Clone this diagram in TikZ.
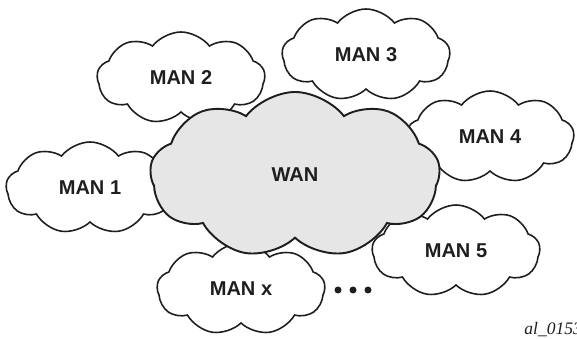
\documentclass[tikz,border=0pt]{standalone}
\usepackage{fontspec}
\setmainfont{Liberation Serif}
\setsansfont{Liberation Sans}
\usepackage{tikz}
\usetikzlibrary{shapes.symbols,positioning}
\definecolor{outlineblack}{RGB}{30,30,30}
\definecolor{wangrey}{RGB}{230,230,230}
\tikzset{
  base/.style={font=\sffamily\bfseries\fontsize{11.4}{13}\selectfont, align=center, text=outlineblack},
  netcloud/.style={base, cloud, cloud puffs=9, cloud puff arc=105, cloud ignores aspect, draw=outlineblack, fill=white, line width=0.9pt, inner sep=0pt},
  man/.style={netcloud, minimum width=3.36cm, minimum height=1.84cm},
  wan/.style={netcloud, fill=wangrey, line width=1.1pt, minimum width=5.8cm, minimum height=3.32cm},
  morenet/.style={circle, fill=outlineblack, inner sep=0pt, minimum size=0.14cm},
  figid/.style={font=\itshape\fontsize{10}{12}\selectfont, text=outlineblack, inner sep=0pt},
}
\begin{document}
\begin{tikzpicture}
  \useasboundingbox (0,0) rectangle (11.54,6.78);
  % metropolitan clouds round the core
  \node[man] (man1) at (1.80,3.02) {MAN 1};
  \node[man] (man2) at (3.62,5.22) {MAN 2};
  \node[man] (man3) at (7.32,5.68) {MAN 3};
  \node[man] (man4) at (9.80,4.04) {MAN 4};
  \node[man] (man5) at (9.12,1.76) {MAN 5};
  \node[man] (manx) at (4.82,1.00) {MAN x};
  % wide area cloud on top
  \node[wan] (wan) at (5.90,3.28) {WAN};
  \foreach \i in {0,1,2}{
    \node[morenet] (dot\i) at (6.76+\i*0.30,0.98) {};
  }
  \node[figid,anchor=base west] (fig) at (10.48,0.09) {al\_0153};
\end{tikzpicture}
\end{document}
